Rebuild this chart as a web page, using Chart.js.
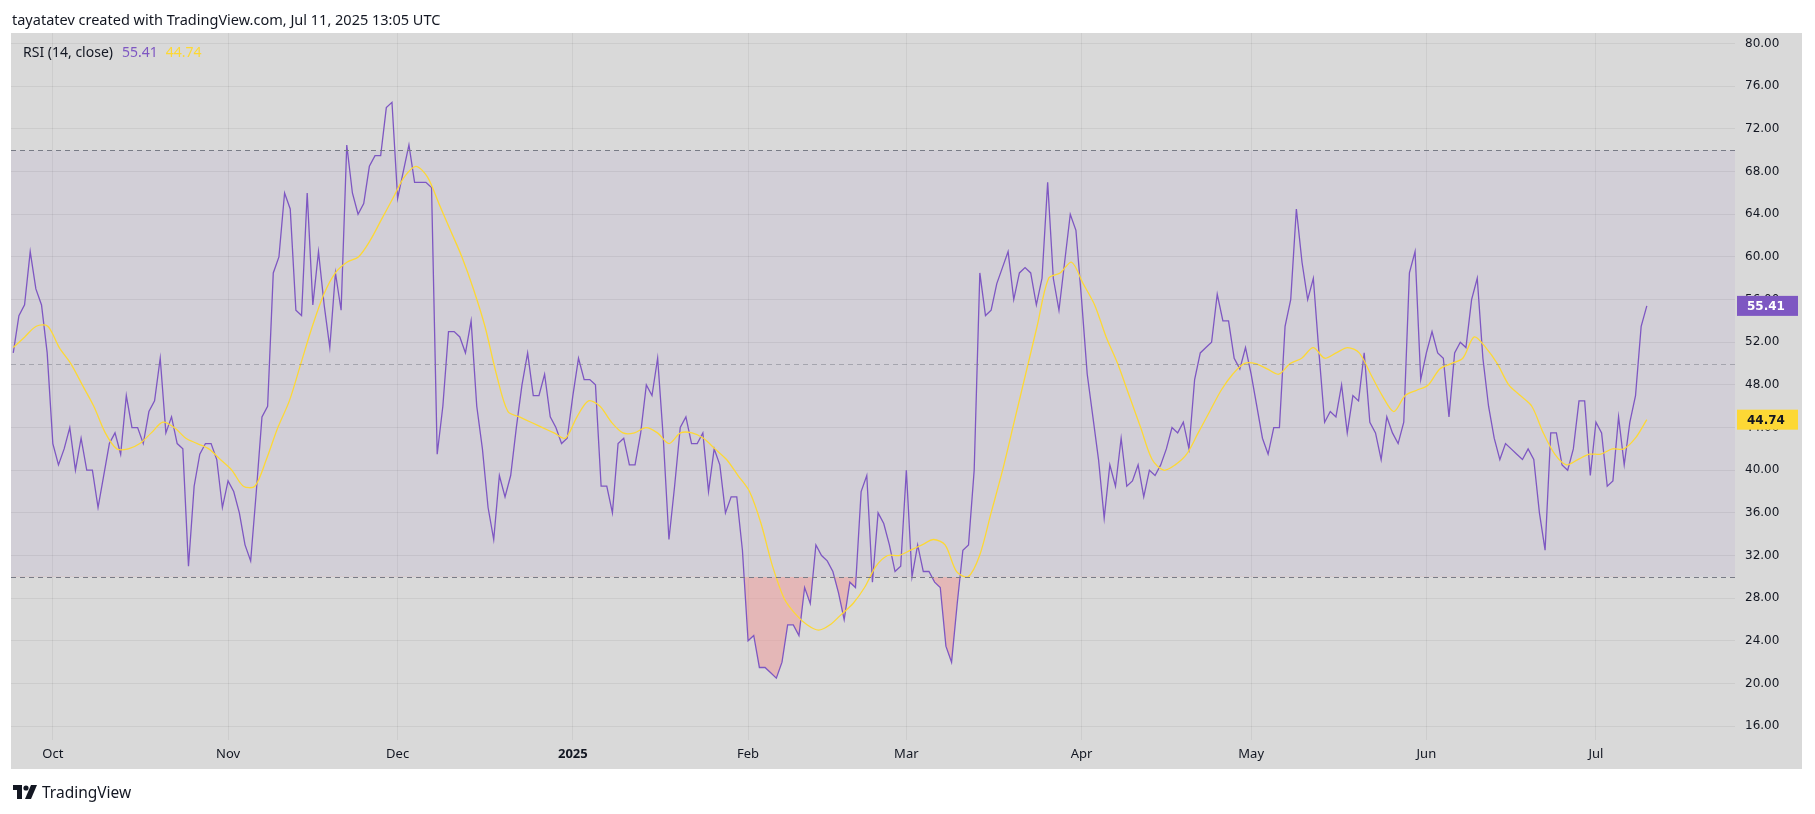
<!DOCTYPE html>
<html><head><meta charset="utf-8">
<script src="https://cdn.jsdelivr.net/npm/chart.js@4"></script>
<style>
html,body{margin:0;padding:0;background:#fff;width:1815px;height:814px;overflow:hidden;font-family:"Noto Sans",sans-serif;}
#wrap{position:absolute;left:0;top:0;width:1815px;height:814px;}
#hdr{position:absolute;left:12px;top:9px;font-size:14.5px;color:#131722;}
#ftr{position:absolute;left:13px;top:781px;font-size:15.5px;color:#131722;display:flex;align-items:center;gap:5px;}
</style></head><body>
<div id="wrap"><canvas id="c" width="1815" height="814"></canvas></div>
<div id="hdr">tayatatev created with TradingView.com, Jul 11, 2025 13:05 UTC</div>
<div id="ftr"><svg width="24" height="14" viewBox="0 0 24 14"><path d="M0 0H9V14H4V5H0Z" fill="#131722"/><circle cx="13" cy="3" r="2.6" fill="#131722"/><path d="M18 0H24L18 14H12Z" fill="#131722"/></svg><span>TradingView</span></div>
<script>
// RSI(14, close), one value per day starting Sep 24, 2024
const rsiValues = [51,54.5,55.5,60.5,57,55.5,51,42.5,40.5,42,44,40,43,40,40,36.5,39.5,42.5,43.5,41.5,47,44,44,42.5,45.5,46.5,50.5,43.5,45,42.5,42,31,38.5,41.5,42.5,42.5,41,36.5,39,38,36,33,31.5,38,45,46,58.5,60,66,64.5,55,54.5,66,55.5,60.5,55.5,51.5,58.5,55,70.5,66,64,65,68.5,69.5,69.5,74,74.5,65.5,68,70.5,67,67,67,66.5,41.5,46,53,53,52.5,51,54,46,42,36.5,33.5,39.5,37.5,39.5,44,48,51,47,47,49,45,44,42.5,43,47,50.5,48.5,48.5,48,38.5,38.5,36,42.5,43,40.5,40.5,43.5,48,47,50.5,43,33.5,38.5,44,45,42.5,42.5,43.5,38,42,40.5,36,37.5,37.5,32.5,24,24.5,21.5,21.5,21,20.5,22,25.5,25.5,24.5,29,27.5,33,32,31.5,30.5,28.5,26,29.5,29,38,39.5,29.5,36,35,33,30.5,31,40,30,33,30.5,30.5,29.5,29,23.5,22,27.5,32.5,33,40,58.5,54.5,55,57.5,59,60.5,56,58.5,59,58.5,55.5,58,67,58,55,59.5,64,62.5,56,49,45,41,35.5,40.5,38.5,43,38.5,39,40.5,37.5,40,39.5,40.5,42,44,43.5,44.5,42,48.5,51,51.5,52,56.5,54,54,50.5,49.5,51.5,49,46,43,41.5,44,44,53.5,56,64.5,59.5,56,58,51,44.5,45.5,45,48,43.5,47,46.5,51,44.5,43.5,41,45,43.5,42.5,44.5,58.5,60.5,48.5,51,53,51,50.5,45,51,52,51.5,56,58,50.5,46,43,41,42.5,42,41.5,41,42,41,36,32.5,43.5,43.5,40.5,40,42,46.5,46.5,39.5,44.5,43.5,38.5,39,45,40.5,44.5,47,53.5,55.41];
// RSI-based moving average, sampled about every other day over the same span
const maValues = [51.5,52.5,53.5,53.5,51.5,50,48,46,43.5,42,42,42.5,43.5,44.5,44,43,42.5,42,41,40,38.5,38.5,41,44,46.5,50,53.5,56.5,58.5,59.5,60,61.5,63.5,65.5,67.5,68.5,67.5,65,62.5,60,57,53.5,49,45.5,45,44.5,44,43.5,43,45,46.5,46,44.5,43.5,43.5,44,43.5,42.5,43.5,43.5,43,42,41,39.5,38,35,31,28,26.5,25.5,25,25.5,26.5,27.5,29,31,32,32,32.5,33,33.5,33,30.5,30,32,36,40,44.5,49,53.5,58,58.5,59.5,57.5,55.5,52.5,50,47,44,41,40,40.5,41.5,43.5,45.5,47.5,49,50,50,49.5,49,50,50.5,51.5,50.5,51,51.5,51,49,47,45.5,47,47.5,48,49.5,50,50.5,52.5,51.5,50,48,47,46,43.5,41.5,40.5,41,41.5,41.5,42,42,43,44.74];
const tickLabels = ['Oct','Nov','Dec','2025','Feb','Mar','Apr','May','Jun','Jul'];
const tickDays = [7,38,68,99,130,158,189,219,250,280]; // days after Sep 24, 2024
const yTicks = [16,20,24,28,32,36,40,44,48,52,56,60,64,68,72,76,80];
const bandLevels = [30,50,70];

const lastIdx = rsiValues.length - 1;
const rsiData = rsiValues.map((v,i)=>({x:i,y:v}));
const maData = maValues.map((v,j)=>({x:j*lastIdx/(maValues.length-1),y:v}));

const PURPLE='#7e57c2', YELLOW='#fdd835';
const bgPlugin = {
  id:'bg',
  beforeDraw(ch){
    const {ctx,chartArea:a,scales:{y}}=ch;
    ctx.save();
    ctx.fillStyle='#d9d9d9';
    ctx.fillRect(a.left, a.top, 1802-a.left, 769-a.top);
    ctx.fillStyle='rgba(126,87,194,0.07)';
    const t=y.getPixelForValue(bandLevels[2]), b=y.getPixelForValue(bandLevels[0]);
    ctx.fillRect(a.left,t,a.right-a.left,b-t);
    ctx.restore();
  },
  afterDatasetsDraw(ch){
    const {ctx,chartArea:a,scales:{y}}=ch;
    ctx.save();
    bandLevels.forEach(l=>{
      const py=Math.round(y.getPixelForValue(l))+0.5;
      ctx.strokeStyle = l===50 ? 'rgba(120,123,134,0.5)' : 'rgba(120,123,134,1)';
      ctx.setLineDash([5,4]); ctx.lineWidth=1;
      ctx.beginPath(); ctx.moveTo(a.left,py); ctx.lineTo(a.right,py); ctx.stroke();
    });
    ctx.setLineDash([]);
    ctx.font='14px "Noto Sans"'; ctx.textBaseline='middle';
    ctx.fillStyle='#131722'; ctx.fillText('RSI (14, close)',23,53);
    let w=ctx.measureText('RSI (14, close)').width+23+9;
    ctx.fillStyle=PURPLE; ctx.fillText(rsiValues[lastIdx].toFixed(2),w,53);
    w+=ctx.measureText(rsiValues[lastIdx].toFixed(2)).width+8;
    ctx.fillStyle=YELLOW; ctx.fillText(maValues[maValues.length-1].toFixed(2),w,53);
    const tags=[[rsiValues[lastIdx],PURPLE,'#fff'],[maValues[maValues.length-1],YELLOW,'#131722']];
    ctx.font='bold 12px "DejaVu Sans"';
    tags.forEach(([v,bg,fg])=>{
      const py=y.getPixelForValue(v);
      ctx.fillStyle=bg; ctx.fillRect(a.right+2,py-10,61,20);
      ctx.fillStyle=fg; ctx.textAlign='left'; ctx.fillText(v.toFixed(2),a.right+12,py+1);
    });
    ctx.restore();
  }
};

new Chart(document.getElementById('c'),{
  type:'line',
  data:{datasets:[
    {data:maData,borderColor:YELLOW,borderWidth:1.3,pointRadius:0,tension:0.3,fill:false},
    {data:rsiData,borderColor:PURPLE,borderWidth:1.3,pointRadius:0,tension:0,
     fill:{target:{value:30},above:'rgba(0,0,0,0)',below:'rgba(240,150,150,0.5)'}}
  ]},
  options:{
    responsive:false,animation:false,
    layout:{padding:{left:11,right:13,top:33,bottom:45}},
    plugins:{legend:{display:false},tooltip:{enabled:false}},
    scales:{
      x:{type:'linear',min:-0.4,max:304.6,
        afterBuildTicks(s){s.ticks=tickDays.map(v=>({value:v}));},
        afterFit(s){s.height=29;},
        border:{display:false},
        grid:{color:'rgba(0,0,0,0.05)',drawTicks:false},
        ticks:{autoSkip:false,maxRotation:0,padding:6,color:'#131722',
          font:(c)=>({family:'"Noto Sans"',size:13,weight:tickLabels[c.index]==='2025'?'bold':'normal'}),
          callback:(v,i)=>tickLabels[i]}
      },
      y:{position:'right',min:14.7,max:81.0,
        afterBuildTicks(s){s.ticks=yTicks.map(v=>({value:v}));},
        afterFit(s){s.width=67;},
        border:{display:false},
        grid:{color:'rgba(0,0,0,0.06)',drawTicks:false},
        ticks:{autoSkip:false,padding:10,color:'#131722',font:{family:'"DejaVu Sans"',size:12},
          callback:v=>Number(v).toFixed(2)}
      }
    }
  },
  plugins:[bgPlugin]
});
</script></body></html>
